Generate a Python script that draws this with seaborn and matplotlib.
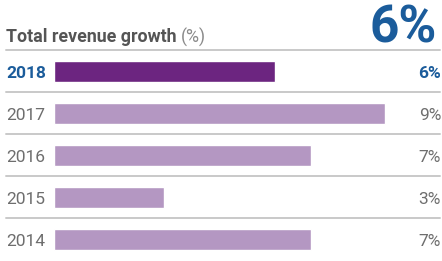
import matplotlib
matplotlib.use("Agg")
import matplotlib.pyplot as plt
import seaborn as sns
import pandas as pd

# data
years = ["2018", "2017", "2016", "2015", "2014"]
growth = [6, 9, 7, 3, 7]
value_labels = ["6%", "9%", "7%", "3%", "7%"]
headline = "6%"
title = "Total revenue growth"
unit = "(%)"

sns.set_theme(style="white")
plt.rcParams["font.family"] = ["Roboto", "DejaVu Sans"]

BLUE = "#1b5c9b"
DARK = "#6c2580"
LIGHT = "#b497c2"
GREY = "#6e6e6e"
LINE = "#c9c9c9"

df = pd.DataFrame({"year": years, "growth": growth})

W, H = 442, 261
fig = plt.figure(figsize=(W / 100, H / 100), dpi=100)
ax = fig.add_axes([0, 0, 1, 1])

palette = {y: (DARK if i == 0 else LIGHT) for i, y in enumerate(years)}
sns.barplot(data=df, x="growth", y="year", hue="year", palette=palette,
            orient="h", width=0.5, legend=False, ax=ax, saturation=1)

# 0% sits at x=54px, 9% at x=385px; rows are 42px apart
px_per_unit = (385 - 54) / 9
ax.set_xlim(-54 / px_per_unit, (W - 54) / px_per_unit)
ax.set_ylim((H - 71.5) / 42, -71.5 / 42)
ax.axis("off")

tr = ax.get_yaxis_transform()
for i, (yr, lab) in enumerate(zip(years, value_labels)):
    first = i == 0
    col = BLUE if first else GREY
    wt = "bold" if first else "normal"
    ax.text(6 / W, i, yr, transform=tr, ha="left", va="center_baseline",
            fontsize=12.5, color=col, fontweight=wt)
    ax.text(441 / W, i, lab, transform=tr, ha="right", va="center_baseline",
            fontsize=12.5, color=col, fontweight=wt)
    ax.axhline(i - 0.51, xmin=6 / W, xmax=440 / W, color=LINE, lw=1.4)

# title
t1 = fig.text(6 / W, 1 - 42.5 / H, title, ha="left", va="baseline",
              fontsize=12.8, fontweight="bold", color="#555555")
fig.canvas.draw()
bb = t1.get_window_extent()
fig.text((bb.x1 + 4) / W, 1 - 42.5 / H, unit, ha="left", va="baseline",
         fontsize=12.8, color="#8c8c8c")
fig.text(437 / W, 1 - 42.5 / H, headline, ha="right", va="baseline",
         fontsize=37, fontweight="bold", color=BLUE)

fig.savefig("out.png", dpi=100)
